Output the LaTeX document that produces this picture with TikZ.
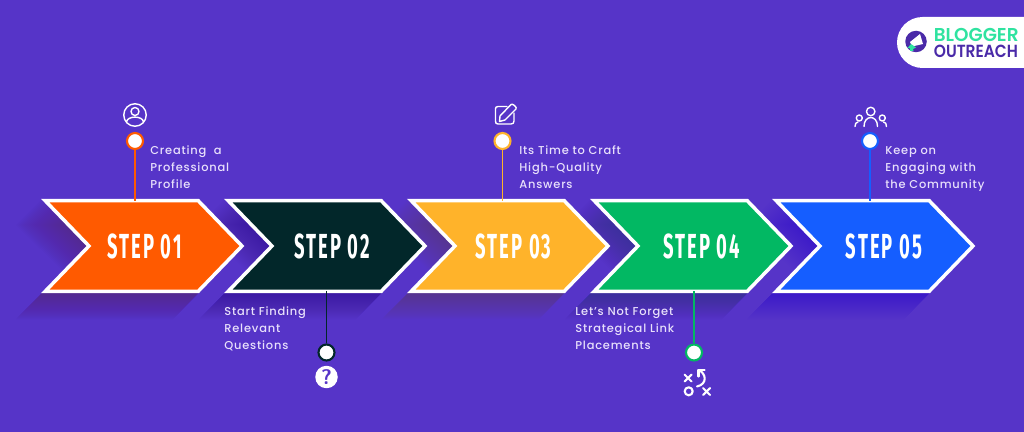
\documentclass[tikz,border=0pt]{standalone}
\usepackage{fontspec}
\usetikzlibrary{shapes.symbols}
\newfontfamily\steptextfont[LetterSpace=7]{Poppins Medium}
\newfontfamily\steplabelfont[FakeStretch=0.53,LetterSpace=6]{Fira Sans}
\newfontfamily\logoafont[FakeStretch=0.99]{Poppins SemiBold}
\newfontfamily\logobfont[FakeStretch=0.88]{Poppins SemiBold}
\definecolor{backcol}{HTML}{5634C8}
\definecolor{textcol}{HTML}{E8E0FB}
\definecolor{orangecol}{HTML}{FF5A00}
\definecolor{darkcol}{HTML}{02272A}
\definecolor{ambercol}{HTML}{FFB32A}
\definecolor{greencol}{HTML}{02B863}
\definecolor{bluecol}{HTML}{155EFF}
\definecolor{logogreen}{HTML}{2FE3A0}
\definecolor{logopurple}{HTML}{4A2AA8}
\definecolor{shadea}{HTML}{53293D}
\definecolor{shadeb}{HTML}{1B1374}
\definecolor{shadec}{HTML}{5A3A3C}
\definecolor{shaded}{HTML}{292F67}
\definecolor{shadee}{HTML}{2F19DE}
\tikzset{
  chevron/.style={signal, signal from=west, signal to=east, signal pointer angle=92,
    draw=white, line width=2pt, minimum width=3.94cm, minimum height=1.82cm,
    inner sep=0pt, outer sep=0pt},
  steplabel/.style={inner sep=0pt, text=white, font=\steplabelfont\bfseries\fontsize{19.8}{22}\selectfont},
  stepdot/.style={circle, fill=white, draw=#1, line width=1.2pt, minimum size=0.32cm, inner sep=0pt},
  stemline/.style={draw=#1, line width=1.1pt},
  steptext/.style={anchor=west, align=left, inner sep=0pt, text=textcol,
    font=\steptextfont\fontsize{6.5}{9.7}\selectfont},
  iconline/.style={draw=white, line width=0.8pt, line cap=round, line join=round}
}
\begin{document}
\begin{tikzpicture}[x=0.02cm, y=-0.02cm]
\useasboundingbox (0,0) rectangle (1024,432);
\fill [backcol] (0,0) rectangle (1024,432);

% long shadows
\foreach \xs/\col in {0/shadea, 183/shadeb, 366/shadec, 549/shaded, 731/shadee} {
  \foreach \d in {1,...,26} {
    \fill [\col, opacity=0.017, shift={(\xs-\d,\d)}] (42,199) -- (199,199) -- (243,246) -- (199,293) -- (42,293) -- (90,246) -- cycle;
  }
}

% arrows
\node [chevron, fill=orangecol] (step1) at (143.5,246) {};
\node [chevron, fill=darkcol] (step2) at (326.5,246) {};
\node [chevron, fill=ambercol] (step3) at (509.5,246) {};
\node [chevron, fill=greencol] (step4) at (692.5,246) {};
\node [chevron, fill=bluecol] (step5) at (874.5,246) {};
\node [steplabel] (label1) at (144.5,246) {STEP 01};
\node [steplabel] (label2) at (332,246) {STEP 02};
\node [steplabel] (label3) at (513.5,246) {STEP 03};
\node [steplabel] (label4) at (701.5,246) {STEP 04};
\node [steplabel] (label5) at (884,246) {STEP 05};

% dots and stems
\node [stepdot=orangecol] (dot1) at (135,141) {};
\node [stepdot=darkcol] (dot2) at (326.5,352.5) {};
\node [stepdot=ambercol] (dot3) at (502.5,141) {};
\node [stepdot=greencol] (dot4) at (694,352.5) {};
\node [stepdot=bluecol] (dot5) at (870,141) {};
\draw [stemline=orangecol] (dot1) -- (dot1 |- step1.north);
\draw [stemline=darkcol] (dot2) -- (dot2 |- step2.south);
\draw [stemline=ambercol] (dot3) -- (dot3 |- step3.north);
\draw [stemline=greencol] (dot4) -- (dot4 |- step4.south);
\draw [stemline=bluecol] (dot5) -- (dot5 |- step5.north);

\node [steptext] (text1) at (150,167) {Creating~~a\\Professional\\Profile};
\node [steptext] (text2) at (224,329) {Start Finding\\Relevant\\Questions};
\node [steptext] (text3) at (519,167) {Its Time to Craft\\High-Quality\\Answers};
\node [steptext] (text4) at (575,329) {Let’s Not Forget\\Strategical Link\\Placements};
\node [steptext] (text5) at (885,169) {Keep on\\Engaging with\\the Community};

% user icon
\draw [iconline] (135,115) circle [radius=0.225cm];
\draw [iconline] (135,111.5) circle [radius=0.08cm];
\draw [iconline] (126.5,122) .. controls (127,115.5) and (143,115.5) .. (143.5,122);

% question icon
\node [circle, fill=white, text=backcol, minimum size=0.45cm, inner sep=0pt, font=\fontsize{12}{12}\selectfont\sffamily\bfseries] (icon2) at (326.5,377) {?};

% pencil icon
\draw [iconline] (507,106.5) -- (498,106.5) .. controls (496,106.5) and (495.5,107.5) .. (495.5,109) -- (495.5,121) .. controls (495.5,123) and (496,124) .. (498,124) -- (511,124) .. controls (513,124) and (514,123) .. (514,121) -- (514,113);
\draw [iconline] (500,116) -- (511,104.5) .. controls (512.5,103) and (517.5,107.5) .. (516,109) -- (505,120) -- (499.5,121.5) -- cycle;

% tactics icon
\draw [iconline, line width=1.2pt] (684.5,374.5) -- (691.5,381.5) (691.5,374.5) -- (684.5,381.5);
\draw [iconline, line width=1.2pt] (703,388) -- (710,395) (710,388) -- (703,395);
\draw [iconline, line width=1.2pt] (688.7,391.3) circle [radius=0.08cm];
\draw [iconline, line width=1.2pt] (698.5,370) .. controls (706,373) and (708,384) .. (697,386.5);
\draw [iconline, line width=1.2pt] (704.5,370) -- (698.5,370) -- (698.5,376.5);

% people icon
\draw [iconline] (870.7,111.5) circle [radius=0.085cm];
\draw [iconline] (859.3,118) circle [radius=0.06cm];
\draw [iconline] (882.3,118) circle [radius=0.06cm];
\draw [iconline] (864,126.5) .. controls (864,114.5) and (877.5,114.5) .. (877.5,126.5);
\draw [iconline] (855,126.5) .. controls (855,123.5) and (856,122.5) .. (858,122);
\draw [iconline] (886.5,126.5) .. controls (886.5,123.5) and (885.5,122.5) .. (883.5,122);

% logo
\fill [white] (1024,17) -- (922.5,17) arc [start angle=90, end angle=270, radius=0.51cm] -- (1024,68) -- cycle;
\fill [logopurple] (916,41.5) circle [radius=0.215cm];
\fill [white] (910,42) -- (920,34) -- (923,44) -- (912,46.5) -- cycle;
\fill [logogreen] (911,44) -- (916,47.5) -- (913,49) -- (913.5,51) -- (910,51) -- (910,48.5) -- (907.5,48) -- cycle;
\node [anchor=west, align=left, inner sep=0pt, font=\fontsize{10.6}{8.6}\selectfont] (logotext) at (933.5,43) {\textcolor{logogreen}{\logoafont BLOGGER}\\\textcolor{logopurple}{\logobfont\fontsize{10}{8.6}\selectfont OUTREACH}};
\end{tikzpicture}
\end{document}
